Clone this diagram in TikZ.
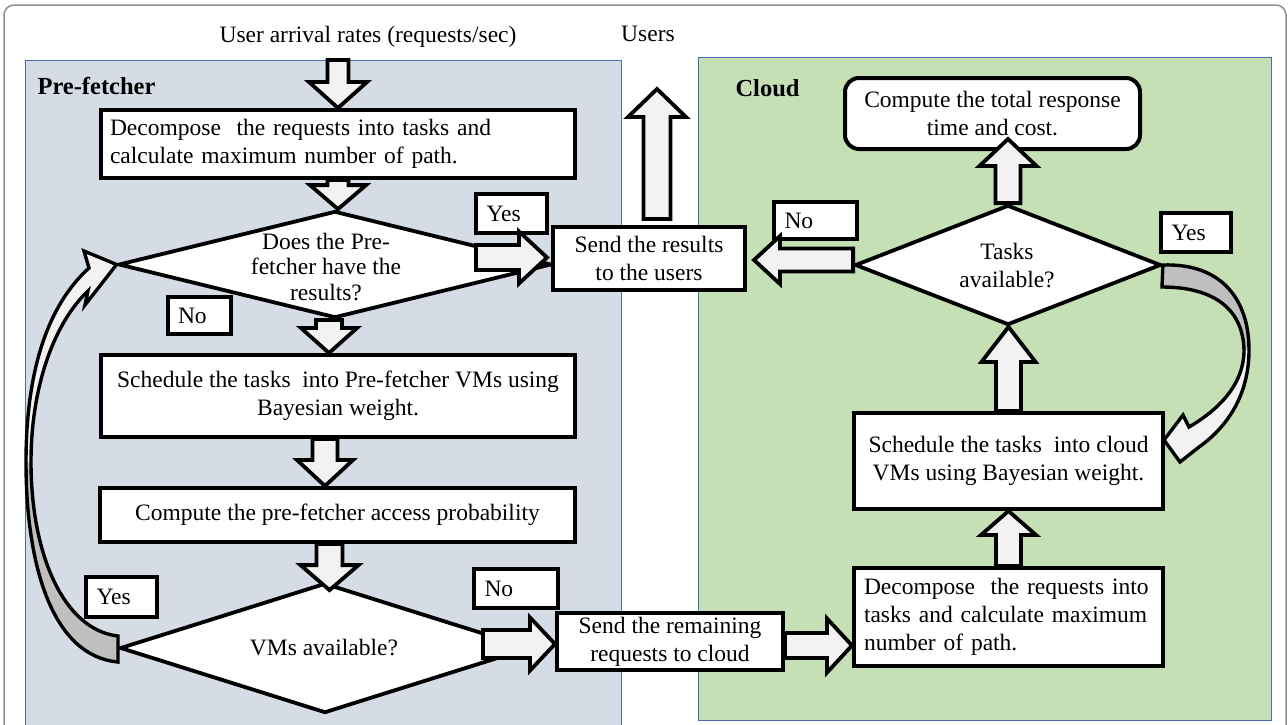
\documentclass[tikz,border=0pt]{standalone}
\usepackage{fontspec}
\setmainfont{Liberation Serif}
\usetikzlibrary{calc,shapes.geometric}

\definecolor{prefill}{HTML}{D6DCE5}
\definecolor{cloudfill}{HTML}{C5E0B4}
\definecolor{panelline}{HTML}{4A6FAE}
\definecolor{arrowfill}{HTML}{F2F2F2}
\definecolor{backface}{HTML}{BFBFBF}
\definecolor{framegray}{HTML}{8F8F8F}

% block arrow: start, tip, shaft half width, head half width, head length
\newcommand{\blockarrow}[5]{%
  \coordinate (ba-h) at ($(#2)!#5!(#1)$);
  \draw[blockarr] ($(#1)!#3!90:(#2)$) -- ($(ba-h)!#3!-90:(#1)$)
    -- ($(ba-h)!#4!-90:(#1)$) -- (#2) -- ($(ba-h)!#4!90:(#1)$)
    -- ($(ba-h)!#3!90:(#1)$) -- ($(#1)!#3!-90:(#2)$) -- cycle;
}

\begin{document}
\begin{tikzpicture}[x=1pt,y=-1pt,
  every node/.style={font=\fontsize{23.5}{28}\selectfont},
  panel/.style={draw=panelline, line width=1pt},
  procbox/.style={draw=black, line width=4pt, fill=white, inner sep=0pt, align=center},
  decision/.style={diamond, draw=black, line width=3.8pt, fill=white, inner sep=0pt},
  tagbox/.style={draw=black, line width=3.2pt, fill=white, inner sep=0pt, align=left},
  heading/.style={font=\fontsize{24.5}{29}\selectfont\bfseries, anchor=west},
  blockarr/.style={draw=black, line width=3.8pt, fill=arrowfill, line join=miter},
  curveline/.style={draw=black, line width=3.4pt, line join=miter}
]
\useasboundingbox (0,0) rectangle (1288,724);

% outer frame
\draw[framegray, line width=1.5pt, rounded corners=10pt] (4,5) rectangle (1286,745);

% panels
\fill[prefill] (25,60) rectangle (621,740);
\draw[panel] (25,740) -- (25,60) -- (621,60) -- (621,740);
\draw[panel, fill=cloudfill] (698,57) rectangle (1271,720);

\node[heading] (pfh) at (34,86) {Pre-fetcher};
\node[heading] (clh) at (732,88) {Cloud};

% free texts
\node (arrivals) at (368,37) {User arrival rates (requests/sec)};
\node (users) at (648,34) {Users};

% pre-fetcher side
\node[procbox, minimum width=474pt, minimum height=68pt, text width=456pt, align=left] (p1) at (338,144)
  {Decompose\ \ the requests into tasks and\\calculate maximum number of path.};
\node[decision, minimum width=433pt, minimum height=107pt] (d1) at (335,264.5) {};
\node[align=center, font=\fontsize{23.5}{25.5}\selectfont] (d1t) at (326,267)
  {Does the Pre-\\fetcher have the\\results?};
\node[procbox, minimum width=474pt, minimum height=82pt] (p2) at (338,396)
  {Schedule the tasks\ \ into Pre-fetcher VMs using\\Bayesian weight.};
\node[procbox, minimum width=475pt, minimum height=54pt] (p3) at (337.5,515)
  {Compute the pre-fetcher access probability};
\node[decision, minimum width=410pt, minimum height=130pt] (d2) at (325,648) {};
\node (d2t) at (324,648) {VMs available?};

% middle boxes
\node[procbox, minimum width=192pt, minimum height=63pt] (sr) at (649,258.5)
  {Send the results\\to the users};
\node[procbox, minimum width=226pt, minimum height=57pt] (sq) at (670,641.5)
  {Send the remaining\\requests to cloud};

% cloud side
\node[procbox, rounded corners=14pt, minimum width=295pt, minimum height=71pt] (ct) at (992.5,113.5)
  {Compute the total response\\time and cost.};
\node[decision, minimum width=306pt, minimum height=120pt] (dt) at (1008,265) {};
\node[align=center] (dtt) at (1007,266) {Tasks\\available?};
\node[procbox, minimum width=309pt, minimum height=96pt] (cs) at (1008.5,461)
  {Schedule the tasks\ \ into cloud\\VMs using Bayesian weight.};
\node[procbox, minimum width=309pt, minimum height=98pt, text width=289pt, align=left] (cd) at (1008.5,617)
  {Decompose\ \ the requests into\\tasks and calculate maximum\\number of path.};

% yes / no tags
\node[tagbox, minimum width=71pt, minimum height=39pt, text width=50pt] (yes1) at (511.5,213.5) {Yes};
\node[tagbox, minimum width=63pt, minimum height=37pt, text width=43pt] (no1) at (199.5,315.5) {No};
\node[tagbox, minimum width=71pt, minimum height=40pt, text width=50pt] (yes2) at (121.5,597) {Yes};
\node[tagbox, minimum width=84pt, minimum height=39pt, text width=63pt] (no2) at (516,588.5) {No};
\node[tagbox, minimum width=83pt, minimum height=37pt, text width=62pt] (no3) at (815.5,220.5) {No};
\node[tagbox, minimum width=70pt, minimum height=39pt, text width=49pt] (yes3) at (1196,232.5) {Yes};

% looping arrow: VMs available? (Yes) back to the first decision
\fill[backface] (118,662) .. controls (52,656) and (26,565) .. (26,462)
  -- (31,462) .. controls (31,555) and (64,630) .. (118,636) -- cycle;
\fill[arrowfill] (26,462) .. controls (26,370) and (48,305) .. (89,268)
  -- (84,251) -- (d1.west) -- (85,305) -- (88,291)
  .. controls (55,322) and (31,385) .. (31,462) -- cycle;
\draw[curveline] (118,662) .. controls (52,656) and (26,565) .. (26,462)
  .. controls (26,370) and (48,305) .. (89,268) -- (84,251) -- (d1.west)
  -- (85,305) -- (88,291) .. controls (55,322) and (31,385) .. (31,462)
  .. controls (31,555) and (64,630) .. (118,636) -- cycle;

% looping arrow: Tasks available? (Yes) back to cloud scheduling
\fill[backface] (dt.east) .. controls (1222,263) and (1249,300) .. (1249,350)
  -- (1244,350) .. controls (1243,310) and (1215,287) .. (1162,287) -- cycle;
\fill[arrowfill] (1249,350) .. controls (1249,392) and (1230,425) .. (1199,447)
  -- (1180,462) -- (1164,440) -- (1183,415) -- (1189,427)
  .. controls (1218,410) and (1244,385) .. (1244,350) -- cycle;
\draw[curveline] (dt.east) .. controls (1222,263) and (1249,300) .. (1249,350)
  .. controls (1249,392) and (1230,425) .. (1199,447)
  -- (1180,462) -- (1164,440) -- (1183,415) -- (1189,427)
  .. controls (1218,410) and (1244,385) .. (1244,350)
  .. controls (1243,310) and (1215,287) .. (1162,287) -- cycle;

% block arrows
\coordinate (inflow) at (338,60);
\blockarrow{inflow}{p1.north}{10.5pt}{29pt}{26pt}

\coordinate (a2t) at (p1.south |- d1.north);
\blockarrow{p1.south}{a2t}{10.5pt}{28pt}{24pt}

\coordinate (a3s) at ($(d1.south)+(-6,0)$);
\coordinate (a3t) at (a3s |- p2.north);
\blockarrow{a3s}{a3t}{13pt}{28pt}{25pt}

\coordinate (a4s) at ($(p2.south)+(-13,0)$);
\coordinate (a4t) at (a4s |- p3.north);
\blockarrow{a4s}{a4t}{12.5pt}{28pt}{26pt}

\coordinate (a5s) at ($(p3.south)+(-8,0)$);
\coordinate (a5t) at ($(a5s |- d2.north)+(0,9)$);
\blockarrow{a5s}{a5t}{13pt}{29pt}{25pt}

\coordinate (a6s) at (476,257.5);
\coordinate (a6t) at ($(a6s -| sr.west)+(-4,0)$);
\blockarrow{a6s}{a6t}{12.5pt}{26pt}{28pt}

\coordinate (a7s) at (483,644);
\coordinate (a7t) at (a7s -| sq.west);
\blockarrow{a7s}{a7t}{14pt}{26.5pt}{25pt}

\coordinate (a8s) at ($(sq.east)+(0,4)$);
\coordinate (a8t) at (a8s -| cd.west);
\blockarrow{a8s}{a8t}{12.5pt}{27pt}{25pt}

\coordinate (a9t) at (cd.north |- cs.south);
\blockarrow{cd.north}{a9t}{12.5pt}{27.5pt}{24pt}

\coordinate (a10t) at (cs.north |- dt.south);
\blockarrow{cs.north}{a10t}{12.5pt}{27pt}{35pt}

\coordinate (a11t) at ($(dt.north |- ct.south)+(0,-12)$);
\blockarrow{dt.north}{a11t}{12.5pt}{28.5pt}{27pt}

\coordinate (a12s) at ($(dt.west)+(0,-5)$);
\coordinate (a12t) at ($(a12s -| sr.east)+(7,0)$);
\blockarrow{a12s}{a12t}{11.5pt}{24pt}{26pt}

\coordinate (a13s) at ($(sr.north)+(8,-6)$);
\coordinate (usersup) at (657,89);
\blockarrow{a13s}{usersup}{13.5pt}{29pt}{28pt}

\end{tikzpicture}
\end{document}
